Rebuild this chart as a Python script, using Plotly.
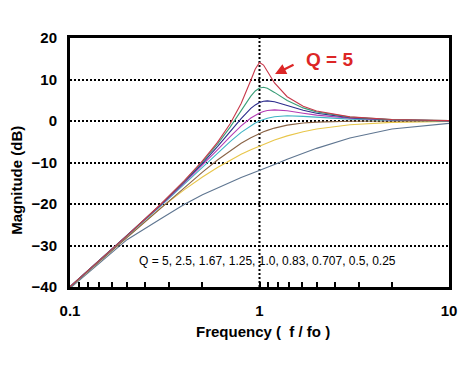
import plotly.graph_objects as go

# Normalised frequency f/fo
freq = [0.1, 0.2, 0.3, 0.4, 0.5, 0.6, 0.7, 0.8, 0.9, 0.95, 1.0, 1.05, 1.1, 1.2, 1.4, 1.7, 2, 3, 5, 10]

# Magnitude (dB), one list per Q
mag_q5    = [-39.91, -27.61, -20.12, -14.44, -9.62, -5.15, -0.66, 4.22, 9.81, 12.52, 14.1, 13.48, 11.99, 9.17, 5.85, 3.55, 2.42, 1.00, 0.35, 0.09]
mag_q2_5  = [-39.92, -27.63, -20.17, -14.56, -9.84, -5.57, -1.49, 2.47, 5.98, 7.24, 7.96, 8.13, 7.90, 6.89, 4.93, 3.16, 2.20, 0.93, 0.33, 0.08]
mag_q1_67 = [-39.93, -27.67, -20.26, -14.74, -10.18, -6.19, -2.59, 0.57, 3.03, 3.88, 4.45, 4.76, 4.86, 4.65, 3.74, 2.58, 1.86, 0.81, 0.29, 0.07]
mag_q1_25 = [-39.94, -27.72, -20.39, -14.99, -10.63, -6.94, -3.78, -1.19, 0.73, 1.42, 1.94, 2.30, 2.53, 2.69, 2.47, 1.88, 1.41, 0.65, 0.24, 0.06]
mag_q1_0  = [-39.96, -27.79, -20.54, -15.29, -11.14, -7.74, -4.95, -2.74, -1.10, -0.49, 0.00, 0.38, 0.67, 1.04, 1.25, 1.11, 0.90, 0.45, 0.17, 0.04]
mag_q0_707 = [-40.00, -27.97, -20.95, -16.03, -12.30, -9.40, -7.13, -5.37, -4.02, -3.48, -3.01, -2.61, -2.26, -1.71, -1.00, -0.49, -0.26, -0.05, -0.01, 0.00]
mag_q0_5  = [-40.05, -28.0, -21.0, -16.6, -13.5, -11.2, -9.4, -8.0, -6.9, -6.45, -6.02, -5.61, -5.23, -4.58, -3.58, -2.58, -1.94, -0.92, -0.34, -0.09]
mag_q0_25 = [-40.3, -28.6, -23.6, -20.1, -17.8, -16.1, -14.7, -13.6, -12.7, -12.3, -11.95, -11.6, -11.22, -10.49, -9.24, -7.76, -6.59, -4.10, -1.94, -0.57]

series_names = ["Q = 0.25", "Q = 0.5", "Q = 0.707", "Q = 1.0", "Q = 1.25", "Q = 1.67", "Q = 2.5", "Q = 5"]
series_vals = [mag_q0_25, mag_q0_5, mag_q0_707, mag_q1_0, mag_q1_25, mag_q1_67, mag_q2_5, mag_q5]
series_colors = ["#5f7691", "#e8c64a", "#8a6446", "#3fb4c4", "#b43cb4", "#2b2b8c", "#3a9e78", "#c8384a"]

x_tick_vals = [0.1, 0.1111, 0.125, 0.1429, 0.1667, 0.2, 0.25, 0.3333, 0.5,
               1, 1.111, 1.25, 1.429, 1.667, 2, 2.5, 3.333, 5, 10]
x_tick_text = ["0.1", "", "", "", "", "", "", "", "",
               "1", "", "", "", "", "", "", "", "", "10"]
y_tick_vals = [-40, -30, -20, -10, 0, 10, 20]

q_list_text = "Q = 5, 2.5, 1.67, 1.25, 1.0, 0.83, 0.707, 0.5, 0.25"

FONT = "Liberation Sans, Arial, sans-serif"

fig = go.Figure()
for name, vals, col in zip(series_names, series_vals, series_colors):
    fig.add_trace(go.Scatter(x=freq, y=vals, mode="lines", name=name,
                             line=dict(color=col, width=1.1), showlegend=False))

# page body has an 8px margin, so the figure is 8px smaller than the window
fig.update_layout(
    width=468, height=359,
    margin=dict(l=62, r=27, t=30, b=80),
    paper_bgcolor="white", plot_bgcolor="white",
    font=dict(family=FONT, color="black"),
    xaxis=dict(type="log", range=[-1, 1], tickvals=x_tick_vals, ticktext=x_tick_text,
               ticks="inside", ticklen=5, tickwidth=2, tickcolor="black",
               showgrid=False, zeroline=False,
               showline=True, linecolor="black", linewidth=3, mirror=True,
               tickfont=dict(size=15, family=FONT, color="black", weight="bold"),
               ticklabelstandoff=8),
    yaxis=dict(range=[-40, 20], tickvals=y_tick_vals, ticks="",
               showgrid=True, gridcolor="black", gridwidth=2, griddash="2px,2px",
               zeroline=False,
               showline=True, linecolor="black", linewidth=3, mirror=True,
               tickfont=dict(size=15, family=FONT, color="black", weight="bold"),
               ticklabelstandoff=7),
)

# vertical dotted reference line at f/fo = 1
fig.add_shape(type="line", xref="x", yref="paper", x0=1, x1=1, y0=0, y1=1,
              line=dict(color="black", width=2, dash="2px,2px"), layer="below")

fig.add_annotation(xref="paper", yref="paper", x=-0.140, y=0.43,
                   xanchor="center", yanchor="middle",
                   text="Magnitude (dB)", textangle=-90, showarrow=False,
                   font=dict(size=15, family=FONT, color="black", weight="bold"))
fig.add_annotation(xref="paper", yref="paper", x=0.51, y=-0.177,
                   xanchor="center", yanchor="middle",
                   text="Frequency (\u00a0 f / fo )", showarrow=False,
                   font=dict(size=15, family=FONT, color="black", weight="bold"))
fig.add_annotation(xref="paper", yref="paper", x=0.176, y=0.104,
                   xanchor="left", yanchor="middle",
                   text=q_list_text, showarrow=False,
                   font=dict(size=12, family=FONT, color="black"))
fig.add_annotation(xref="paper", yref="paper", x=0.686, y=0.912,
                   xanchor="center", yanchor="middle",
                   text="Q = 5", showarrow=False,
                   font=dict(size=19, family=FONT, color="#dc2626", weight="bold"))
fig.add_annotation(xref="paper", yref="paper", x=0.541, y=0.855,
                   ax=20, ay=-10, text="", showarrow=True,
                   arrowhead=2, arrowsize=1, arrowwidth=2.2, arrowcolor="#dc2626")

fig.write_html("out.html")
